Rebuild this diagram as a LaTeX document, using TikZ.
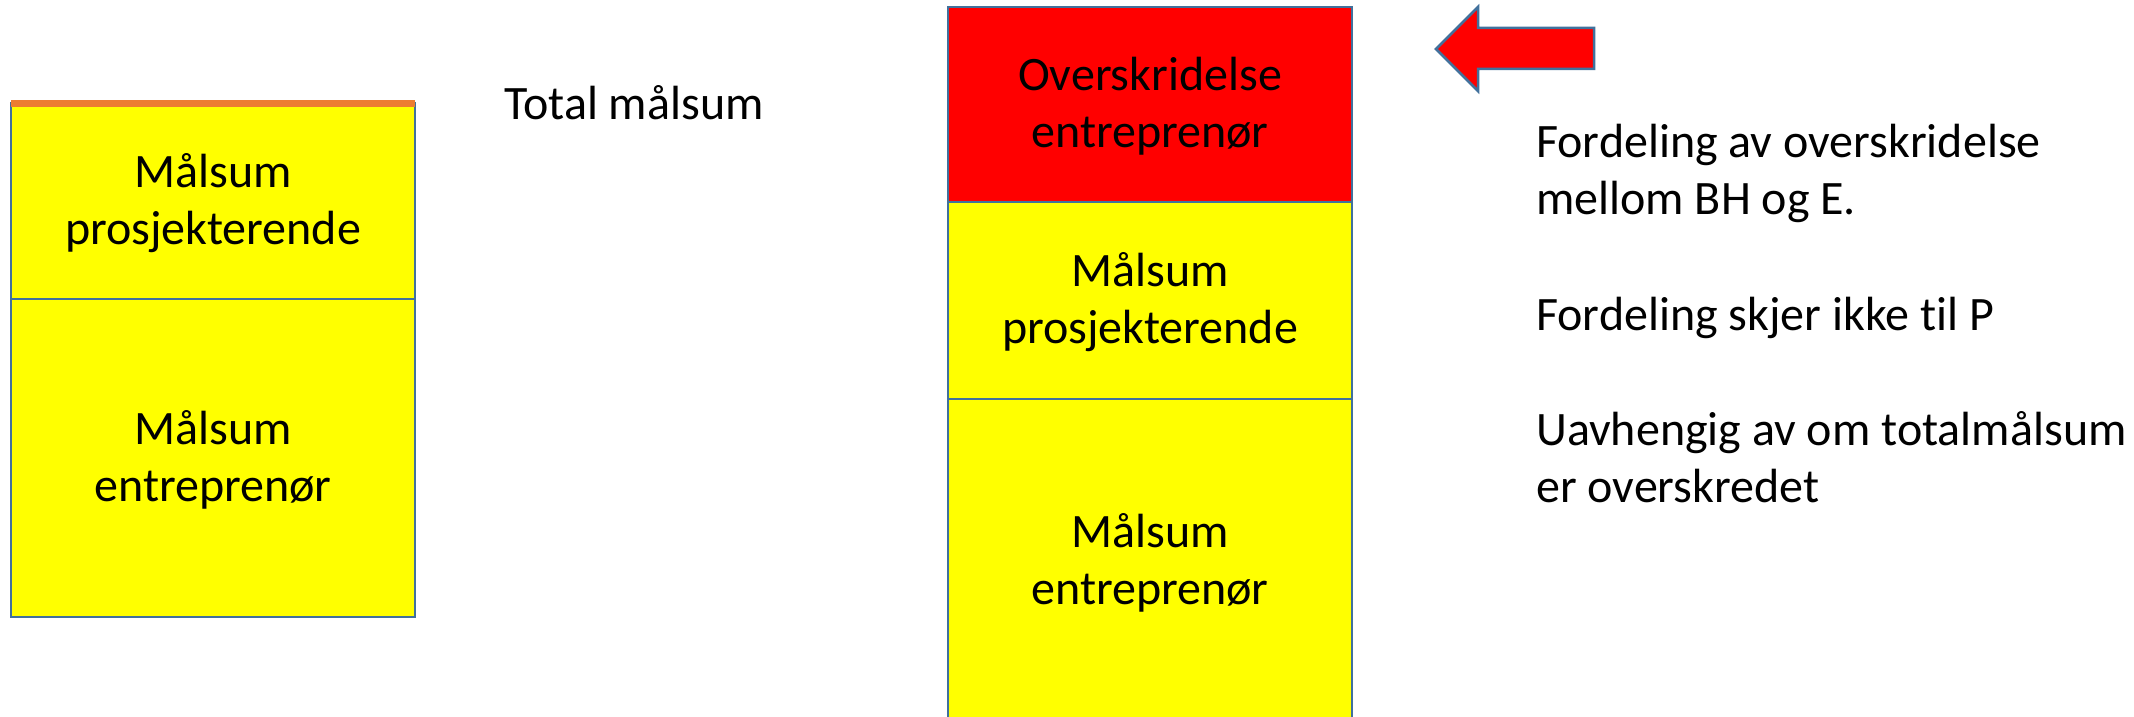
\documentclass[tikz,border=0pt]{standalone}
\usepackage{fontspec}
\setmainfont{Carlito}[Ligatures=NoCommon]
\usepackage{tikz}
\definecolor{cellyellow}{RGB}{255,255,0}
\definecolor{cellred}{RGB}{255,0,0}
\definecolor{edgeblue}{RGB}{65,113,156}
\definecolor{topline}{RGB}{237,125,49}

\tikzset{
    cell/.style={draw=edgeblue, line width=2.5pt, rectangle, inner sep=0pt, outer sep=0pt,
        minimum width=404pt, align=center, text height=96pt, text depth=10pt,
        font=\fontsize{48}{57}\selectfont},
    note/.style={anchor=base west, inner sep=0pt, font=\fontsize{48}{57}\selectfont}
}

\begin{document}
\begin{tikzpicture}[x=1pt,y=-1pt]
    \useasboundingbox[fill=white] (0,0) rectangle (2134,717);

    % Left column
    \node[cell, fill=cellyellow, minimum height=196pt] (leftP) at (213,201) {Målsum\\prosjekterende};
    \node[cell, fill=cellyellow, minimum height=318pt] (leftE) at (213,458) {Målsum\\entreprenør};
    \draw[topline, line width=7pt] (leftP.north west) -- (leftP.north east);

    \node[note] (total) at (504,119) {Total målsum};

    % Right column
    \node[cell, fill=cellred, minimum height=195pt] (over) at (1150,104.5) {Overskridelse\\entreprenør};
    \node[cell, fill=cellyellow, minimum height=197pt] (rightP) at (1150,300.5) {Målsum\\prosjekterende};
    \node[cell, fill=cellyellow, minimum height=324pt] (rightE) at (1150,561) {Målsum\\entreprenør};

    % Arrow
    \draw[edgeblue, line width=2.5pt, fill=cellred, line join=miter]
        (1436,49) -- (1478,7) -- (1478,28) -- (1594,28) -- (1594,69) -- (1478,69) -- (1478,91) -- cycle;

    \node[note] (fordeling1) at (1536,157) {Fordeling av overskridelse};
    \node[note] (fordeling2) at (1536,214) {mellom BH og E.};
    \node[note] (ikkeP) at (1536,330) {Fordeling skjer ikke til P};
    \node[note] (uavh1) at (1536,445) {Uavhengig av om totalmålsum};
    \node[note] (uavh2) at (1536,502) {er overskredet};
\end{tikzpicture}
\end{document}
